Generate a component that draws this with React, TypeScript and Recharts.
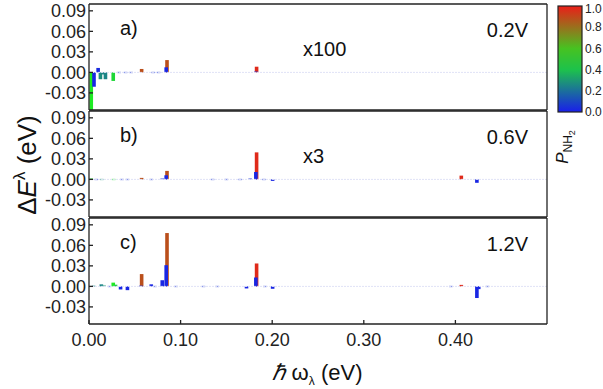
import React from "react";
import { BarChart, Bar, XAxis, YAxis, ReferenceLine } from "recharts";

// mode energy (eV), level shift (eV) and NH2 weight of each mode, one set per bias
const freqA = [0.0025, 0.0055, 0.01, 0.0125, 0.0152, 0.018, 0.0265, 0.033, 0.04, 0.046, 0.0575, 0.07, 0.076, 0.0852, 0.0843, 0.183, 0.1823];
const shiftA = [-0.055, -0.021, 0.0065, -0.01, -0.003, -0.01, -0.0125, -0.0012, -0.0012, -0.001, 0.005, -0.0012, -0.0015, 0.018, 0.0074, 0.0083, 0.0012];
const weightA = [0.5, 0.02, 0.03, 0.27, 0.25, 0.25, 0.45, 0.05, 0.05, 0.05, 0.88, 0.05, 0.05, 0.88, 0.02, 0.97, 0.05];

const freqB = [0.0025, 0.008, 0.014, 0.027, 0.036, 0.042, 0.0575, 0.068, 0.08, 0.0852, 0.0843, 0.135, 0.15, 0.165, 0.176, 0.183, 0.1822, 0.191, 0.2005, 0.4065, 0.4235];
const shiftB = [0.001, -0.0008, -0.0008, -0.0008, -0.001, -0.001, 0.0022, -0.0008, 0.001, 0.0124, 0.006, -0.0008, -0.0008, -0.001, 0.001, 0.0395, 0.0108, -0.001, -0.0022, 0.0055, -0.005];
const weightB = [0.5, 0.05, 0.3, 0.5, 0.05, 0.05, 0.88, 0.05, 0.05, 0.88, 0.02, 0.05, 0.05, 0.05, 0.05, 0.97, 0.02, 0.05, 0.02, 0.97, 0.02];

const freqC = [0.005, 0.0135, 0.0165, 0.0225, 0.0265, 0.029, 0.0345, 0.042, 0.0575, 0.0568, 0.068, 0.072, 0.08, 0.0852, 0.0843, 0.095, 0.125, 0.14, 0.172, 0.183, 0.1822, 0.192, 0.2005, 0.395, 0.4065, 0.4235, 0.4255, 0.435];
const shiftC = [0.0006, 0.003, 0.0012, -0.0018, 0.0055, 0.0025, -0.0045, -0.0055, 0.018, 0.0008, 0.003, -0.0008, 0.009, 0.078, 0.031, -0.001, -0.0008, -0.0008, -0.003, 0.0335, 0.013, -0.001, -0.0035, -0.0008, 0.0022, -0.017, -0.004, -0.0008];
const weightC = [0.25, 0.25, 0.3, 0.05, 0.5, 0.42, 0.02, 0.02, 0.88, 0.05, 0.02, 0.05, 0.02, 0.88, 0.02, 0.05, 0.05, 0.05, 0.02, 0.97, 0.02, 0.05, 0.02, 0.05, 0.97, 0.02, 0.02, 0.05];

const xTicks = [0, 0.1, 0.2, 0.3, 0.4];
const yTicks = [-0.03, 0, 0.03, 0.06, 0.09];
const barTicks = [1.0, 0.8, 0.6, 0.4, 0.2, 0];
const panelLabels = ["a)", "b)", "c)"];
const biasLabels = ["0.2V", "0.6V", "1.2V"];
const scaleLabels = ["x100", "x3", ""];

const FONT = "'Liberation Sans', Arial, Helvetica, sans-serif";
const AXIS = "#222";
const PLOT_H = 106;
const PAD = 10; // room above each panel for its top tick label
const PANEL_TOPS = [4, 111, 218];

// blue -> green -> red, linear in rgb
function colorOf(p: number) {
  const lo = [25, 30, 235];
  const mid = [30, 235, 35];
  const hi = [235, 30, 25];
  const [a, b, t] = p < 0.5 ? [lo, mid, p * 2] : [mid, hi, (p - 0.5) * 2];
  const c = a.map((v, i) => Math.round(v + (b[i] - v) * (t as number)));
  return `rgb(${c.join(",")})`;
}

const buildRows = (f: number[], s: number[], w: number[]) =>
  f.map((freq, i) => ({ f: freq, v: s[i], p: w[i] }));

const panels = [
  buildRows(freqA, shiftA, weightA),
  buildRows(freqB, shiftB, weightB),
  buildRows(freqC, shiftC, weightC),
];

const ModeBar = (props: any) => {
  const { x, y, width, height, payload } = props;
  if (x == null || y == null || !payload) return null;
  const cx = x + (width || 0) / 2;
  const top = height < 0 ? y + height : y;
  const h = Math.abs(height || 0);
  return (
    <rect
      x={cx - 1.8}
      y={h < 1.4 ? top - 0.6 : top}
      width={3.6}
      height={Math.max(h, 1.4)}
      fill={colorOf(payload.p)}
      fillOpacity={h < 1.4 ? 0.5 : 1}
    />
  );
};

function Panel({ idx }: { idx: number }) {
  const showX = idx === 2;
  const height = PAD + 1 + PLOT_H + (showX ? 40 : 1);
  return (
    <div style={{ position: "absolute", left: 0, top: PANEL_TOPS[idx] - 1 - PAD }}>
      <BarChart
        width={603}
        height={height}
        data={panels[idx]}
        margin={{ top: PAD, right: 46, bottom: 0, left: 49 }}
      >
        <XAxis
          xAxisId="b"
          dataKey="f"
          type="number"
          domain={[0, 0.5]}
          allowDataOverflow
          ticks={xTicks}
          interval={0}
          height={showX ? 40 : 1}
          tick={showX ? { fill: AXIS, fontSize: 18, fontFamily: FONT } : false}
          tickFormatter={(v: number) => v.toFixed(2)}
          tickSize={-4}
          tickMargin={13}
          stroke={AXIS}
          strokeWidth={1.3}
        />
        <XAxis
          xAxisId="t"
          orientation="top"
          type="number"
          domain={[0, 0.5]}
          allowDataOverflow
          ticks={xTicks}
          interval={0}
          height={1}
          tick={false}
          tickSize={-4}
          stroke={AXIS}
          strokeWidth={1.3}
        />
        <YAxis
          yAxisId="l"
          type="number"
          domain={[-0.055, 0.1]}
          allowDataOverflow
          ticks={yTicks}
          interval={0}
          width={40}
          tick={{ fill: AXIS, fontSize: 18, fontFamily: FONT }}
          tickFormatter={(v: number) => v.toFixed(2)}
          tickSize={-4}
          tickMargin={7}
          stroke={AXIS}
          strokeWidth={1.3}
        />
        <YAxis
          yAxisId="r"
          orientation="right"
          type="number"
          domain={[-0.055, 0.1]}
          allowDataOverflow
          ticks={yTicks}
          interval={0}
          width={10}
          tick={false}
          tickSize={-4}
          stroke={AXIS}
          strokeWidth={1.3}
        />
        <ReferenceLine
          xAxisId="b"
          yAxisId="l"
          y={0}
          stroke="#e0e2f6"
          strokeDasharray="2 1"
        />
        <Bar
          xAxisId="b"
          yAxisId="l"
          dataKey="v"
          barSize={3}
          shape={ModeBar}
          isAnimationActive={false}
        />
      </BarChart>
    </div>
  );
}

function Overlay() {
  const cbTop = 6;
  const cbH = 106;
  return (
    <svg
      width={603}
      height={389}
      style={{ position: "absolute", left: 0, top: 0, pointerEvents: "none" }}
      fontFamily={FONT}
    >
      <defs>
        <linearGradient id="pnh2" x1="0" y1="0" x2="0" y2="1">
          {barTicks.map((t) => (
            <stop key={t} offset={`${(1 - t) * 100}%`} stopColor={colorOf(t)} />
          ))}
        </linearGradient>
      </defs>

      {PANEL_TOPS.map((top, i) => (
        <g key={i} fill="#111" fontSize={20}>
          <text x={120} y={top + 31}>{panelLabels[i]}</text>
          {scaleLabels[i] && <text x={303} y={top + 52}>{scaleLabels[i]}</text>}
          <text x={528} y={top + 33} textAnchor="end">{biasLabels[i]}</text>
        </g>
      ))}

      <text transform="translate(36,165) rotate(-90)" textAnchor="middle" fontSize={26} fill="#111">
        <tspan>Δ</tspan>
        <tspan fontStyle="italic">E</tspan>
        <tspan dy={-11} fontSize={17}>λ</tspan>
        <tspan dy={11}> (eV)</tspan>
      </text>

      <text x={317} y={380} textAnchor="middle" fontSize={22} fill="#111">
        <tspan fontStyle="italic">ℏ</tspan>
        <tspan> ω</tspan>
        <tspan dy={5} fontSize={12}>λ</tspan>
        <tspan dy={-5}> (eV)</tspan>
      </text>

      <rect x={558} y={cbTop} width={24} height={cbH} fill="url(#pnh2)" stroke={AXIS} strokeWidth={1.2} />
      {barTicks.map((t) => (
        <text
          key={t}
          x={585}
          y={Math.max(cbTop + (1 - t) * cbH, 9)}
          dy="0.35em"
          fontSize={12}
          fill="#222"
        >
          {t.toFixed(1)}
        </text>
      ))}

      <text transform="translate(568,147) rotate(-90)" textAnchor="middle" fontSize={17} fill="#111">
        <tspan fontStyle="italic">P</tspan>
        <tspan dy={4} fontSize={12}>NH</tspan>
        <tspan dy={3} fontSize={9}>2</tspan>
      </text>
    </svg>
  );
}

export default function App() {
  return (
    <div
      style={{
        position: "absolute",
        left: 0,
        top: 0,
        width: 603,
        height: 389,
        background: "#fff",
        fontFamily: FONT,
      }}
    >
      {[0, 1, 2].map((i) => (
        <Panel key={i} idx={i} />
      ))}
      <Overlay />
    </div>
  );
}
